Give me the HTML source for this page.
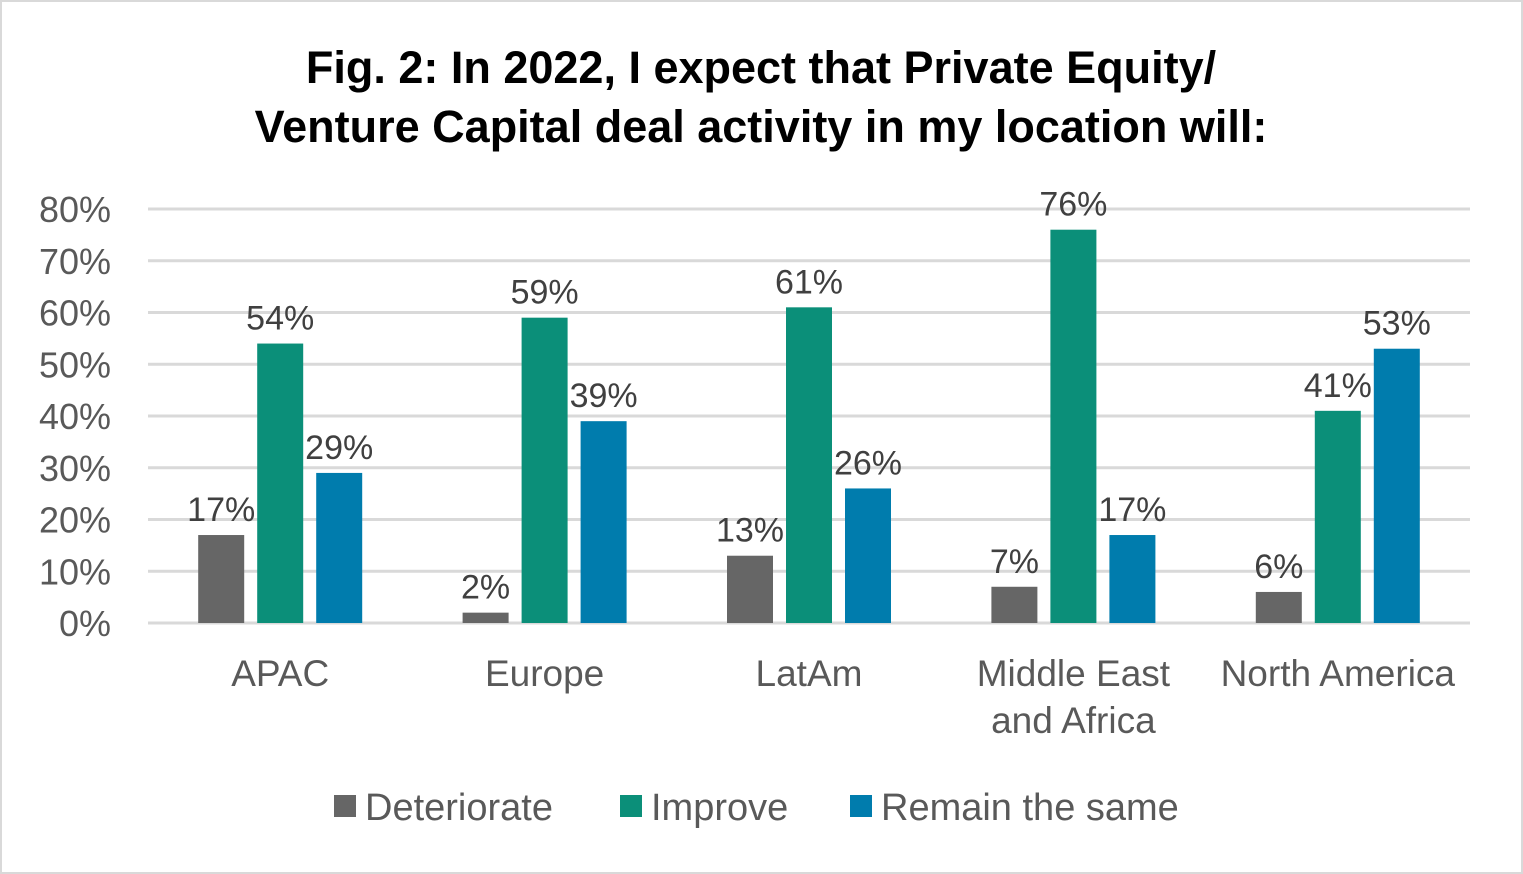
<!DOCTYPE html>
<html><head><meta charset="utf-8"><style>
body{margin:0;background:#fff}
svg{display:block;font-family:"Liberation Sans",Arial,sans-serif}
</style></head><body>
<svg id="c" width="1523" height="874">
<rect x="1" y="1" width="1521" height="872" fill="#fff" stroke="#d9d9d9" stroke-width="2"/>
<text x="761" y="83" text-anchor="middle" font-size="45" font-weight="bold" fill="#000">Fig. 2: In 2022, I expect that Private Equity/</text>
<text x="761" y="142" text-anchor="middle" font-size="45" font-weight="bold" fill="#000">Venture Capital deal activity in my location will:</text>
<g id="grid"></g><g id="bars"></g><g id="labels"></g>
<g>
<rect x="334" y="795" width="22" height="22" fill="#666666"/>
<text x="365" y="820" font-size="38" fill="#595959">Deteriorate</text>
<rect x="620" y="795" width="22" height="22" fill="#0b8f79"/>
<text x="651" y="820" font-size="38" fill="#595959">Improve</text>
<rect x="850" y="795" width="22" height="22" fill="#007cad"/>
<text x="881" y="820" font-size="38" fill="#595959">Remain the same</text>
</g>
</svg>
<script>
const categories=[["APAC"],["Europe"],["LatAm"],["Middle East","and Africa"],["North America"]];
const deteriorate=[17,2,13,7,6];
const improve=[54,59,61,76,41];
const remain=[29,39,26,17,53];
const ticks=[0,10,20,30,40,50,60,70,80];
const NS="http://www.w3.org/2000/svg";
const x0=148,x1=1470,y0=623,yTop=209,maxV=80;
const y=v=>y0-(y0-yTop)*v/maxV;
const gw=(x1-x0)/categories.length;
const cx=i=>x0+gw*(i+0.5);
function mk(tag,attrs,parent,txt){const e=document.createElementNS(NS,tag);for(const k in attrs)e.setAttribute(k,attrs[k]);if(txt!==undefined)e.textContent=txt;document.getElementById(parent).appendChild(e);return e;}
ticks.forEach(t=>{
  const l=mk("line",{x1:x0,x2:x1,y1:y(t),y2:y(t),stroke:"#d9d9d9","stroke-width":3},"grid");
  
  
  const tx=mk("text",{x:111,y:y(t)+13,"text-anchor":"end","font-size":36,fill:"#595959"},"grid",t+"%");
  
  
});
const series=[[deteriorate,"#666666","deteriorate"],[improve,"#0b8f79","improve"],[remain,"#007cad","remain"]];
const bw=46,step=59;
categories.forEach((c,i)=>{
  series.forEach(([arr,col,nm],s)=>{
    const bx=cx(i)+(s-1)*step-bw/2;
    const r=mk("rect",{x:bx,y:y(arr[i]),width:bw,height:y0-y(arr[i]),fill:col},"bars");
    
    
    const t=mk("text",{x:bx+bw/2,y:y(arr[i])-14,"text-anchor":"middle","font-size":34,fill:"#404040"},"labels",arr[i]+"%");
    
    
  });
  c.forEach((line,k)=>{
    const t=mk("text",{x:cx(i),y:686+k*47,"text-anchor":"middle","font-size":37,fill:"#595959"},"labels",line);
    
    
  });
});
</script>
</body></html>
